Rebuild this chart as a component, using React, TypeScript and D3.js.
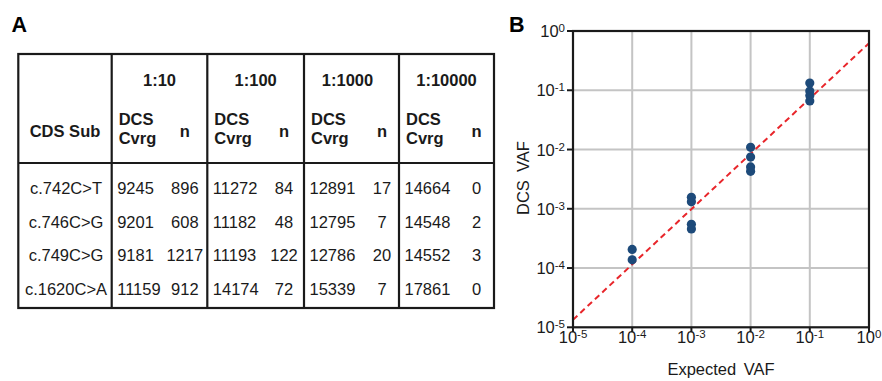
import { useEffect, useRef } from 'react';
import * as d3 from 'd3';

const variants = ['c.742C>T', 'c.746C>G', 'c.749C>G', 'c.1620C>A'];
const dilutions = ['1:10', '1:100', '1:1000', '1:10000'];
const expectedVaf = [1e-1, 1e-2, 1e-3, 1e-4];
// DCS coverage per variant (rows) and dilution (columns)
const coverage = [
  [9245, 11272, 12891, 14664],
  [9201, 11182, 12795, 14548],
  [9181, 11193, 12786, 14552],
  [11159, 14174, 15339, 17861],
];
// mutant counts n
const counts = [
  [896, 84, 17, 0],
  [608, 48, 7, 2],
  [1217, 122, 20, 3],
  [912, 72, 7, 0],
];
const decades = [-5, -4, -3, -2, -1, 0];

const FONT = '"Liberation Sans", Arial, sans-serif';
const INK = '#1a1a1a';

export default function App() {
  const svgRef = useRef<SVGSVGElement>(null);

  useEffect(() => {
    if (!svgRef.current) return;
    const svg = d3.select(svgRef.current);
    svg.selectAll('*').remove();
    svg.attr('font-family', FONT);

    // ---------- panel A: table ----------
    svg.append('text').attr('x', 11.5).attr('y', 32.3)
      .attr('font-size', 21.5).attr('font-weight', 700).attr('fill', '#000').text('A');

    const colEdges = [18.3, 111.7, 207.3, 304, 399, 494];
    const nInset = [22.5, 20, 17, 17.5];
    const top = 54, headSep = 163, bottom = 308;
    const table = svg.append('g');

    table.append('rect')
      .attr('x', colEdges[0]).attr('y', top)
      .attr('width', colEdges[5] - colEdges[0]).attr('height', bottom - top)
      .attr('fill', 'none').attr('stroke', INK).attr('stroke-width', 2.2);
    table.selectAll('line.col').data(colEdges.slice(1, 5)).join('line')
      .attr('class', 'col')
      .attr('x1', d => d).attr('x2', d => d).attr('y1', top).attr('y2', bottom)
      .attr('stroke', INK).attr('stroke-width', 2.2);
    table.append('line')
      .attr('x1', colEdges[0]).attr('x2', colEdges[5]).attr('y1', headSep).attr('y2', headSep)
      .attr('stroke', INK).attr('stroke-width', 2.2);

    const fs = 16.5;
    table.append('text')
      .attr('x', (colEdges[0] + colEdges[1]) / 2).attr('y', 136.7)
      .attr('text-anchor', 'middle').attr('font-size', fs).attr('font-weight', 700).attr('fill', INK)
      .text('CDS Sub');

    dilutions.forEach((dil, j) => {
      const l = colEdges[j + 1], r = colEdges[j + 2];
      table.append('text')
        .attr('x', (l + r) / 2 - (j === 2 ? 4 : 0)).attr('y', 86)
        .attr('text-anchor', 'middle').attr('font-size', fs).attr('font-weight', 700).attr('fill', INK)
        .text(dil);
      table.append('text')
        .attr('x', l + 7).attr('y', 125)
        .attr('font-size', fs).attr('font-weight', 700).attr('fill', INK).text('DCS');
      table.append('text')
        .attr('x', l + 7).attr('y', 144)
        .attr('font-size', fs).attr('font-weight', 700).attr('fill', INK).text('Cvrg');
      table.append('text')
        .attr('x', r - nInset[j]).attr('y', 136.7)
        .attr('text-anchor', 'middle').attr('font-size', fs).attr('font-weight', 700).attr('fill', INK)
        .text('n');
    });

    const rowY = d3.scalePoint<string>().domain(variants).range([194.3, 295]);
    variants.forEach((v, i) => {
      const y = rowY(v)!;
      table.append('text')
        .attr('x', (colEdges[0] + colEdges[1]) / 2 + 1).attr('y', y)
        .attr('text-anchor', 'middle').attr('font-size', fs).attr('fill', INK).text(v);
      dilutions.forEach((_, j) => {
        const l = colEdges[j + 1], r = colEdges[j + 2];
        table.append('text')
          .attr('x', l + 5.5).attr('y', y)
          .attr('font-size', fs).attr('fill', INK).text(coverage[i][j]);
        table.append('text')
          .attr('x', r - nInset[j]).attr('y', y)
          .attr('text-anchor', 'middle').attr('font-size', fs).attr('fill', INK).text(counts[i][j]);
      });
    });

    // ---------- panel B: scatter ----------
    svg.append('text').attr('x', 509).attr('y', 31.7)
      .attr('font-size', 21.5).attr('font-weight', 700).attr('fill', '#000').text('B');

    const x = d3.scaleLog().domain([1e-5, 1]).range([573, 869]);
    const y = d3.scaleLog().domain([1e-5, 1]).range([327.3, 31]);
    const plot = svg.append('g');

    const ticks = decades.map(e => Math.pow(10, e));
    plot.selectAll('line.gx').data(ticks.slice(1, -1)).join('line')
      .attr('class', 'gx')
      .attr('x1', d => x(d)).attr('x2', d => x(d)).attr('y1', y(1e-5)).attr('y2', y(1))
      .attr('stroke', '#c4c4c4').attr('stroke-width', 2);
    plot.selectAll('line.gy').data(ticks.slice(1, -1)).join('line')
      .attr('class', 'gy')
      .attr('y1', d => y(d)).attr('y2', d => y(d)).attr('x1', x(1e-5)).attr('x2', x(1))
      .attr('stroke', '#c4c4c4').attr('stroke-width', 2);

    // points: VAF = n / coverage, zero counts not drawn on log axis
    const pts: { ex: number; obs: number }[] = [];
    counts.forEach((row, i) => row.forEach((n, j) => {
      if (n > 0) pts.push({ ex: expectedVaf[j], obs: n / coverage[i][j] });
    }));

    // log-log least squares fit
    const lx = pts.map(p => Math.log10(p.ex));
    const ly = pts.map(p => Math.log10(p.obs));
    const mx = d3.mean(lx)!, my = d3.mean(ly)!;
    const slope = d3.sum(lx, (v, k) => (v - mx) * (ly[k] - my)) / d3.sum(lx, v => (v - mx) ** 2);
    const icpt = my - slope * mx;
    const fit = (v: number) => Math.pow(10, icpt + slope * Math.log10(v));

    svg.append('clipPath').attr('id', 'plotClip').append('rect')
      .attr('x', x(1e-5)).attr('y', y(1)).attr('width', x(1) - x(1e-5)).attr('height', y(1e-5) - y(1));

    const line = d3.line<number>().x(d => x(d)).y(d => y(fit(d)));
    plot.append('path')
      .attr('d', line([1e-5, 1]))
      .attr('clip-path', 'url(#plotClip)')
      .attr('fill', 'none').attr('stroke', '#e8262b').attr('stroke-width', 2)
      .attr('stroke-dasharray', '6 4');

    plot.selectAll('circle').data(pts).join('circle')
      .attr('cx', d => x(d.ex)).attr('cy', d => y(d.obs)).attr('r', 4.6)
      .attr('fill', '#1d4a7a');

    plot.append('rect')
      .attr('x', x(1e-5)).attr('y', y(1)).attr('width', x(1) - x(1e-5)).attr('height', y(1e-5) - y(1))
      .attr('fill', 'none').attr('stroke', INK).attr('stroke-width', 2.2);

    // ticks
    plot.selectAll('line.tx').data(ticks).join('line')
      .attr('class', 'tx')
      .attr('x1', d => x(d)).attr('x2', d => x(d)).attr('y1', y(1e-5)).attr('y2', y(1e-5) + 5)
      .attr('stroke', INK).attr('stroke-width', 2);
    plot.selectAll('line.ty').data(ticks).join('line')
      .attr('class', 'ty')
      .attr('y1', d => y(d)).attr('y2', d => y(d)).attr('x1', x(1e-5) - 6).attr('x2', x(1e-5))
      .attr('stroke', INK).attr('stroke-width', 2);

    const powLabel = (sel: d3.Selection<SVGTextElement, number, any, any>) => {
      sel.append('tspan').text('10');
      sel.append('tspan').attr('font-size', 11.5).attr('baseline-shift', 5.5)
        .text(d => String(Math.round(Math.log10(d))));
    };

    plot.selectAll('text.xl').data(ticks).join('text')
      .attr('class', 'xl')
      .attr('x', d => x(d)).attr('y', 343.3)
      .attr('text-anchor', 'middle').attr('font-size', fs).attr('fill', INK)
      .call(powLabel as any);
    plot.selectAll('text.yl').data(ticks).join('text')
      .attr('class', 'yl')
      .attr('x', 565).attr('y', d => y(d) + 6)
      .attr('text-anchor', 'end').attr('font-size', fs).attr('fill', INK)
      .call(powLabel as any);

    plot.append('text')
      .attr('x', (x(1e-5) + x(1)) / 2).attr('y', 375)
      .attr('text-anchor', 'middle').attr('font-size', fs).attr('word-spacing', 3).attr('fill', INK)
      .text('Expected VAF');
    plot.append('text')
      .attr('transform', `translate(528.5,${(y(1) + y(1e-5)) / 2 - 1}) rotate(-90)`)
      .attr('text-anchor', 'middle').attr('font-size', fs).attr('word-spacing', 3.5).attr('fill', INK)
      .text('DCS VAF');
  }, []);

  return (
    <svg
      ref={svgRef}
      width={882}
      height={381}
      style={{ position: 'absolute', left: 0, top: 0, background: '#fff' }}
    />
  );
}
